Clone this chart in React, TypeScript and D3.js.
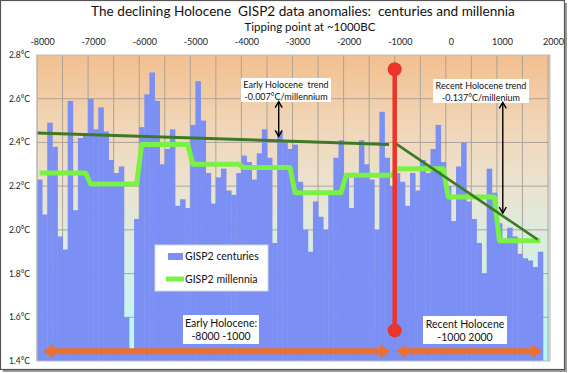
import * as d3 from 'd3';

// GISP2 century anomalies, one value per century starting at -8000
const firstCentury = -8000;
const centuryValues = [
  2.23, 2.07, 2.49, 2.38, 1.97, 1.91, 2.59, 2.09, 2.42, 2.43,
  2.60, 2.46, 2.56, 2.45, 2.32, 2.26, 2.29, 1.60, 1.45, 2.05,
  2.47, 2.62, 2.72, 2.59, 2.30, 2.37, 2.46, 2.11, 2.14, 2.10,
  2.48, 2.68, 2.50, 2.26, 2.12, 2.24, 2.28, 2.18, 2.16, 2.26,
  2.34, 2.31, 2.23, 2.35, 2.46, 2.33, 1.94, 2.45, 2.40, 2.37,
  2.39, 2.22, 2.00, 1.90, 2.13, 2.06, 2.00, 2.16, 2.33, 2.41,
  2.24, 2.10, 2.25, 2.41, 2.30, 2.23, 2.00, 2.54, 2.33, 2.20,
  2.26, 2.22, 2.11, 2.26, 2.18, 2.32, 2.26, 2.37, 2.48, 2.31,
  2.20, 2.04, 2.29, 2.40, 2.13, 2.05, 1.94, 1.80, 2.28, 2.17,
  2.03, 1.96, 2.01, 1.97, 1.89, 1.87, 1.86, 1.83, 1.90,
];
// millennium means, -8000..-7000 up to 1000..2000
const millenniaValues = [2.26, 2.21, 2.39, 2.30, 2.285, 2.17, 2.25, 2.28, 2.15, 1.95];

const xTickYears = [-8000, -7000, -6000, -5000, -4000, -3000, -2000, -1000, 0, 1000, 2000];
const xGridYears = d3.range(-8000, 2001, 500);
const yTicks = [1.4, 1.6, 1.8, 2.0, 2.2, 2.4, 2.6, 2.8];

const earlyTrend: [number, number][] = [[-8000, 2.443], [-1110, 2.391]];
const recentTrend: [number, number][] = [[-1000, 2.398], [1800, 1.955]];

const tippingYear = -1000;
const tippingRange = [1.54, 2.735];
const earlySpan = [-7880, -1085];
const recentSpan = [-970, 1880];
const spanLevel = 1.445;

const W = 568;
const H = 373;
const plot = { left: 37, right: 548, top: 55, bottom: 361 };

const x = d3.scaleLinear().domain([-8000, 2000]).range([plot.left, plot.right]);
const y = d3.scaleLinear().domain([1.4, 2.8]).range([plot.bottom, plot.top]);

const font = 'Lato, "Open Sans", sans-serif';

function OrangeArrow({ from, to, level }: { from: number; to: number; level: number }) {
  const x1 = x(from), x2 = x(to), yy = y(level);
  const h = 3, hh = 7, L = 10;
  const pts = [
    [x1, yy], [x1 + L, yy - hh], [x1 + L, yy - h], [x2 - L, yy - h], [x2 - L, yy - hh],
    [x2, yy], [x2 - L, yy + hh], [x2 - L, yy + h], [x1 + L, yy + h], [x1 + L, yy + hh],
  ];
  return <polygon points={pts.map(p => p.join(',')).join(' ')} fill="#EB702E" />;
}

function BlackArrow({ year, top, bottom }: { year: number; top: number; bottom: number }) {
  const xx = x(year), y1 = y(top), y2 = y(bottom);
  return (
    <g stroke="#000" strokeWidth={1.4} fill="none">
      <line x1={xx} x2={xx} y1={y1} y2={y2} />
      <path d={`M${xx - 3.5},${y1 + 6}L${xx},${y1}L${xx + 3.5},${y1 + 6}`} />
      <path d={`M${xx - 3.5},${y2 - 6}L${xx},${y2}L${xx + 3.5},${y2 - 6}`} />
    </g>
  );
}

function LabelBox({ cx, top, w, h, lines, size }: { cx: number; top: number; w: number; h: number; lines: string[]; size: number }) {
  return (
    <g>
      <rect x={cx - w / 2} y={top} width={w} height={h} fill="#fff" />
      {lines.map((t, i) => (
        <text key={i} x={cx} y={top + size + 1 + i * (size + 2.5)} textAnchor="middle"
          fontSize={size} fill="#111" style={{ whiteSpace: 'pre' }}>{t}</text>
      ))}
    </g>
  );
}

export default function App() {
  const bw = x(firstCentury + 100) - x(firstCentury);
  const centers = centuryValues.map((_, i) => x(firstCentury + i * 100) + bw / 2);

  const millLine = d3.line<number>()
    .x((_, i) => centers[i])
    .y((_, i) => y(millenniaValues[Math.floor(i / 10)]));

  const trendLine = d3.line<[number, number]>().x(d => x(d[0])).y(d => y(d[1]));

  return (
    <div style={{ position: 'fixed', left: 0, top: 0 }}>
      <svg width={W} height={H} style={{ display: 'block', fontFamily: font }}>
        <defs>
          <linearGradient id="bg" x1="0" y1="0" x2="0" y2="1">
            <stop offset="0%" stopColor="#F2BF8F" />
            <stop offset="22%" stopColor="#F1D5B6" />
            <stop offset="42%" stopColor="#EBE2CF" />
            <stop offset="60%" stopColor="#DDEBDF" />
            <stop offset="80%" stopColor="#CAF3EC" />
            <stop offset="100%" stopColor="#B3FAF8" />
          </linearGradient>
        </defs>
        <rect x={0} y={0} width={W} height={H} fill="#fff" />
        {/* frame with shadow */}
        <rect x={3} y={3} width={564} height={369} fill="#9a9a9a" />
        <rect x={0.5} y={0.5} width={564} height={369} fill="#fff" stroke="#555" strokeWidth={1.2} />

        <text x={303} y={16} textAnchor="middle" fontSize={13.6} fill="#111" style={{ whiteSpace: 'pre' }}>
          {'The declining Holocene  GISP2 data anomalies:  centuries and millennia'}
        </text>
        <text x={310} y={31} textAnchor="middle" fontSize={11.5} fill="#111">Tipping point at ~1000BC</text>

        {xTickYears.map(t => (
          <text key={t} x={x(t) + bw / 2 + 3} y={45} textAnchor="middle" fontSize={9} fill="#222">{t}</text>
        ))}
        {yTicks.map(t => (
          <text key={t} x={30} y={y(t) + 3} textAnchor="end" fontSize={8.5} fill="#222">{t.toFixed(1)}°C</text>
        ))}

        <rect x={plot.left} y={plot.top} width={plot.right - plot.left + 2} height={plot.bottom - plot.top} fill="url(#bg)" />

        <g stroke="#A79E94" strokeWidth={0.9}>
          {xGridYears.map(t => <line key={t} x1={x(t)} x2={x(t)} y1={plot.top} y2={plot.bottom} />)}
          {yTicks.slice(1, -1).map(t => <line key={t} x1={plot.left} x2={plot.right} y1={y(t)} y2={y(t)} />)}
        </g>

        <g fill="#7B8FF5">
          {centuryValues.map((v, i) => {
            const x0 = x(firstCentury + i * 100);
            return <rect key={i} x={x0} y={y(v)} width={bw + 0.4} height={plot.bottom - y(v)} />;
          })}
        </g>

        <path d={millLine(centuryValues) ?? ''} fill="none" stroke="#7AF145" strokeWidth={5} strokeLinejoin="round" />
        <path d={trendLine(earlyTrend) ?? ''} fill="none" stroke="#3C7A27" strokeWidth={3} />
        <path d={trendLine(recentTrend) ?? ''} fill="none" stroke="#3C7A27" strokeWidth={2.6} />

        <LabelBox cx={286} top={78} w={90} h={24} size={9} lines={['Early Holocene  trend', '-0.007°C/millennium']} />
        <BlackArrow year={-3270} top={2.587} bottom={2.428} />
        <LabelBox cx={481} top={79} w={96} h={24} size={9} lines={['Recent Holocene trend', '-0.137°C/millenium']} />
        <BlackArrow year={1115} top={2.583} bottom={2.077} />

        <line x1={x(tippingYear)} x2={x(tippingYear)} y1={y(tippingRange[1])} y2={y(tippingRange[0])}
          stroke="#EA3528" strokeWidth={4.5} />
        <circle cx={x(tippingYear)} cy={y(tippingRange[1])} r={7} fill="#EA3528" />
        <circle cx={x(tippingYear)} cy={y(tippingRange[0])} r={7} fill="#EA3528" />

        <OrangeArrow from={earlySpan[0]} to={earlySpan[1]} level={spanLevel} />
        <OrangeArrow from={recentSpan[0]} to={recentSpan[1]} level={spanLevel} />

        <LabelBox cx={221} top={315} w={76} h={29} size={10.5} lines={['Early Holocene:', '-8000 -1000']} />
        <LabelBox cx={465} top={316} w={84} h={28} size={10.5} lines={['Recent Holocene', '-1000 2000']} />

        {/* legend */}
        <rect x={155} y={245} width={113} height={46} fill="#fff" stroke="#d8d8d8" />
        <rect x={168} y={253} width={15} height={7} fill="#7B8FF5" />
        <text x={185} y={260} fontSize={10.5} fill="#111">GISP2 centuries</text>
        <line x1={166} x2={184} y1={279} y2={279} stroke="#7AF145" strokeWidth={5} />
        <text x={185} y={283} fontSize={10.5} fill="#111">GISP2 millennia</text>

        <rect x={plot.left} y={plot.top} width={plot.right - plot.left + 2} height={plot.bottom - plot.top}
          fill="none" stroke="#BDBDBD" strokeWidth={1} />
      </svg>
    </div>
  );
}
